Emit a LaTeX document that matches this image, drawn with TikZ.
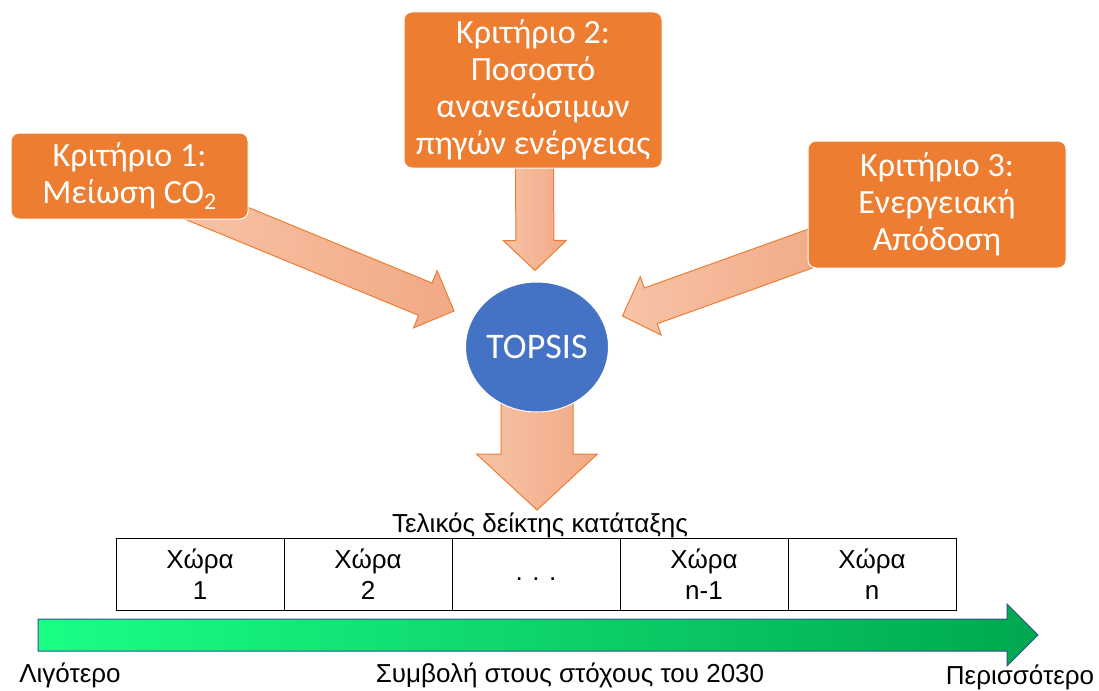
\documentclass[tikz,border=0pt]{standalone}
\usepackage{fontspec}
\setmainfont{Liberation Sans}
\newfontfamily\calibri{Carlito}
\usepackage{tikz}
\usetikzlibrary{shapes.geometric,positioning,backgrounds,calc}
\definecolor{critorange}{HTML}{ED7D31}
\definecolor{arrowlight}{HTML}{F7C3A6}
\definecolor{arrowdark}{HTML}{F2A986}
\definecolor{topsisblue}{HTML}{4472C4}
\definecolor{barlight}{HTML}{1AFF85}
\definecolor{bardark}{HTML}{00A850}
\definecolor{baredge}{HTML}{2F528F}
\tikzset{
  crit/.style={
    rectangle, rounded corners=8pt,
    draw=white, line width=1pt, fill=critorange,
    text=white, align=center, inner sep=0pt,
    font=\calibri\fontsize{34}{37}\selectfont},
  topsis/.style={
    ellipse, draw=white, line width=1pt, fill=topsisblue,
    minimum width=142pt, minimum height=130pt, inner sep=0pt,
    text=white, font=\calibri\fontsize{36}{38}\selectfont},
  cell/.style={
    rectangle, draw=black, line width=1pt,
    minimum width=168pt, minimum height=72pt,
    inner sep=0pt, outer sep=0pt, align=center,
    font=\fontsize{26}{31}\selectfont},
  lbl/.style={inner sep=0pt, font=\fontsize{26}{31}\selectfont},
  barrow/.style={draw=critorange, line width=1pt, left color=arrowlight, right color=arrowdark},
  gbar/.style={draw=baredge, line width=1pt, left color=barlight, right color=bardark},
}
% block arrow: [style]{tail}{tip}{half shaft}{half head}{head length}
\newcommand{\blockarrow}[6][barrow]{%
  \coordinate (ba-neck) at ($(#3)!#6!(#2)$);
  \path[#1] ($(#2)!#4!90:(#3)$) -- ($(ba-neck)!#4!90:(#3)$)
    -- ($(ba-neck)!#5!90:(#3)$) -- (#3)
    -- ($(ba-neck)!#5!-90:(#3)$) -- ($(ba-neck)!#4!-90:(#3)$)
    -- ($(#2)!#4!-90:(#3)$) -- cycle;}

\begin{document}
\begin{tikzpicture}[x=1pt, y=-1pt]
  \useasboundingbox (0,0) rectangle (1099,690);
  \node[crit, minimum width=237pt, minimum height=86pt] (crit1) at (129.5,176) {Κριτήριο 1:\\Μείωση CO\textsubscript{2}};
  \node[crit, minimum width=258pt, minimum height=156pt] (crit2) at (533,90) {Κριτήριο 2:\\Ποσοστό\\ανανεώσιμων\\πηγών ενέργειας};
  \node[crit, minimum width=258pt, minimum height=127pt] (crit3) at (937,204.5) {Κριτήριο 3:\\Ενεργειακή\\Απόδοση};
  \node[topsis] (topsis) at (537,347) {TOPSIS};

  \node[cell] (c1) at (200,574) {Χώρα\\1};
  \node[cell, right=0pt of c1] (c2) {Χώρα\\2};
  \node[cell, right=0pt of c2] (c3) {\strut. . .};
  \node[cell, right=0pt of c3] (c4) {Χώρα\\n-1};
  \node[cell, right=0pt of c4] (c5) {Χώρα\\n};
  \node[lbl, anchor=base] (title) at ($(c3.north)+(4,-6)$) {Τελικός δείκτης κατάταξης};

  \coordinate (bar-tail) at (38,635);
  \coordinate (bar-tip) at (1038,635);
  \blockarrow[gbar]{bar-tail}{bar-tip}{16pt}{31pt}{31pt}
  \node[lbl, anchor=base] (less) at (70,682) {Λιγότερο};
  \node[lbl, anchor=base] (goal) at (570,682) {Συμβολή στους στόχους του 2030};
  \node[lbl, anchor=base] (more) at (1020,684) {Περισσότερο};

  \begin{scope}[on background layer]
    \coordinate (a1-tail) at ($(crit1)+(47.5,21)$);
    \coordinate (a1-tip) at ($(topsis)+(-83,-36)$);
    \coordinate (a2-tail) at ($(crit2.south)+(1.5,-10)$);
    \coordinate (a2-tip) at ($(topsis.north)+(-2,-11)$);
    \coordinate (a3-tail) at ($(crit3)+(-107,37)$);
    \coordinate (a3-tip) at ($(topsis)+(85.5,-31)$);
    \coordinate (a4-tail) at ($(topsis)+(0,45)$);
    \coordinate (a4-tip) at ($(topsis)+(0,163)$);
    \blockarrow{a1-tail}{a1-tip}{17.5pt}{31pt}{31pt}
    \blockarrow{a2-tail}{a2-tip}{19pt}{31.5pt}{30pt}
    \blockarrow{a3-tail}{a3-tip}{19pt}{31pt}{30pt}
    \blockarrow{a4-tail}{a4-tip}{36pt}{60.5pt}{56pt}
  \end{scope}
\end{tikzpicture}
\end{document}
